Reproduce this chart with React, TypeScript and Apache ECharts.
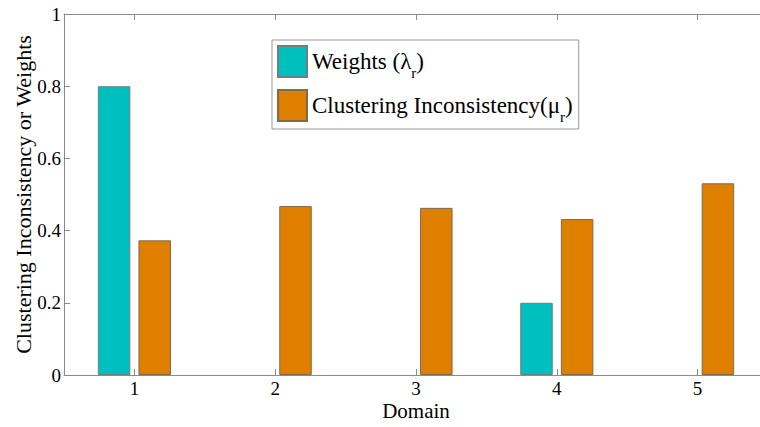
import React, { useEffect, useRef } from "react";
import * as echarts from "echarts";

const domains = ["1", "2", "3", "4", "5"];
const weights = [0.8, 0, 0, 0.2, 0];
const inconsistency = [0.373, 0.468, 0.463, 0.432, 0.531];
const yTicks = [0, 0.2, 0.4, 0.6, 0.8, 1];

const FONT = "Times New Roman, Liberation Serif, Tinos, serif";
const AXIS_GRAY = "#8a8a8a";

const toBarData = (vals: number[]) =>
  vals.map((v) => (v === 0 ? { value: v, itemStyle: { borderWidth: 0, opacity: 0 } } : v));

export default function App() {
  const ref = useRef<HTMLDivElement>(null);
  useEffect(() => {
    if (!ref.current) return;
    const chart = echarts.init(ref.current, null, { renderer: "svg" });
    const sub = { fontSize: 15, fontFamily: FONT, color: "#000", padding: [22, 0, 0, 0] };
    chart.setOption({
      animation: false,
      backgroundColor: "#fff",
      grid: { left: 64, top: 14, right: -8, bottom: 52, outerBoundsMode: "none", containLabel: false },
      legend: {
        orient: "vertical",
        left: 272,
        top: 40,
        padding: [5, 6, 5, 5],
        itemGap: 9,
        itemWidth: 29,
        itemHeight: 31,
        borderColor: "#999",
        borderWidth: 1,
        backgroundColor: "#fff",
        icon: "rect",
        textStyle: {
          fontFamily: FONT,
          fontSize: 23,
          color: "#000",
          rich: {
            sub,
          },
        },
        formatter: (name: string) =>
          name === "Weights"
            ? "Weights (λ{sub|r})"
            : "Clustering Inconsistency(μ{sub|r})",
        data: ["Weights", "Clustering Inconsistency"],
      },
      xAxis: [
        {
          type: "category",
          data: domains,
          boundaryGap: true,
          name: "Domain",
          nameLocation: "middle",
          nameGap: 25,
          nameMoveOverlap: false,
          nameTextStyle: { fontFamily: FONT, fontSize: 21, color: "#000" },
          axisLine: { show: true, lineStyle: { color: AXIS_GRAY, width: 1 } },
          axisTick: { show: true, inside: true, length: 6, alignWithLabel: true, lineStyle: { color: AXIS_GRAY } },
          axisLabel: { fontFamily: FONT, fontSize: 19, color: "#000", margin: 4 },
          splitLine: { show: false },
        },
        {
          type: "category",
          data: domains,
          position: "top",
          boundaryGap: true,
          axisLine: { show: true, lineStyle: { color: AXIS_GRAY, width: 1 } },
          axisTick: { show: true, inside: true, length: 6, alignWithLabel: true, lineStyle: { color: AXIS_GRAY } },
          axisLabel: { show: false },
          splitLine: { show: false },
        },
      ],
      yAxis: {
        type: "value",
        min: yTicks[0],
        max: yTicks[yTicks.length - 1],
        interval: 0.2,
        name: "Clustering Inconsistency or Weights",
        nameLocation: "middle",
        nameGap: 30,
        nameMoveOverlap: false,
        nameTextStyle: { fontFamily: FONT, fontSize: 22, color: "#000" },
        axisLine: { show: true, lineStyle: { color: AXIS_GRAY, width: 1 } },
        axisTick: { show: true, inside: true, length: 6, lineStyle: { color: AXIS_GRAY } },
        axisLabel: { fontFamily: FONT, fontSize: 19, color: "#000", margin: 3 },
        splitLine: { show: false },
      },
      series: [
        {
          name: "Weights",
          type: "bar",
          data: toBarData(weights),
          barWidth: 32.5,
          barGap: "25%",
          itemStyle: { color: "#00BFBF", borderColor: "#6f7f7f", borderWidth: 1 },
        },
        {
          name: "Clustering Inconsistency",
          type: "bar",
          data: toBarData(inconsistency),
          barWidth: 32.5,
          barGap: "25%",
          itemStyle: { color: "#DF7F00", borderColor: "#7f6a50", borderWidth: 1 },
        },
      ],
    });
    return () => chart.dispose();
  }, []);
  return (
    <div
      ref={ref}
      style={{ position: "absolute", left: 0, top: 0, width: 760, height: 427 }}
    />
  );
}
